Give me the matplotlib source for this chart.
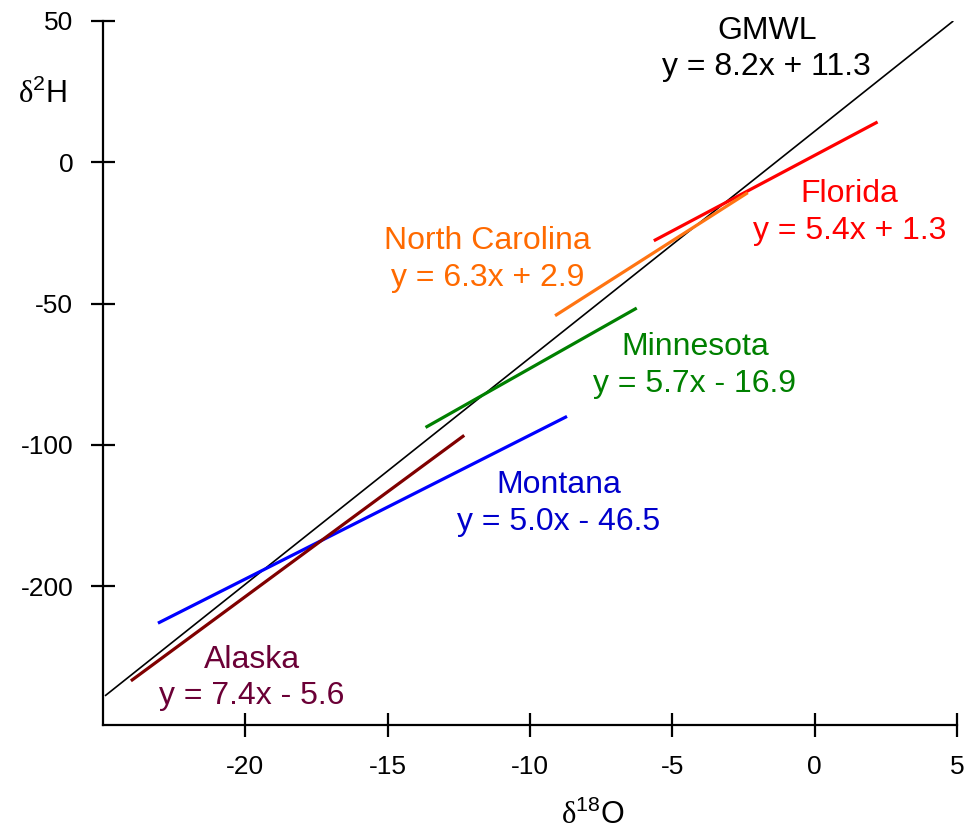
import matplotlib
matplotlib.use("Agg")
import matplotlib.pyplot as plt

plt.rcParams['font.family'] = ['Liberation Sans', 'DejaVu Sans']
plt.rcParams['mathtext.fontset'] = 'custom'
plt.rcParams['mathtext.rm'] = 'Liberation Serif'
plt.rcParams['mathtext.sf'] = 'Liberation Sans'

# Data
series_names = ["GMWL", "Florida", "North Carolina", "Minnesota", "Montana", "Alaska"]
series_eq = ["y = 8.2x + 11.3", "y = 5.4x + 1.3", "y = 6.3x + 2.9",
             "y = 5.7x - 16.9", "y = 5.0x - 46.5", "y = 7.4x - 5.6"]
x_start = [-24.93, -5.65, -9.12, -13.67, -23.07, -24.02]
x_end = [4.87, 2.21, -2.35, -6.25, -8.70, -12.31]
y_start = [-188.7, -27.8, -54.3, -93.8, -163.0, -183.4]
y_end = [49.9, 14.2, -10.8, -51.6, -89.9, -96.6]
label_x = [-1.68, 1.23, -11.5, -4.21, -8.98, -19.78]
label_y = [40.0, -17.7, -34.5, -71.9, -120.7, -182.4]

x_ticks = [-20, -15, -10, -5, 0, 5]
x_ticklabels = ["-20", "-15", "-10", "-5", "0", "5"]
y_ticks = [50, 0, -50, -100, -150]
y_ticklabels = ["50", "0", "-50", "-100", "-200"]

line_colors = ["#000000", "#ff0000", "#ff7412", "#008000", "#0000ff", "#800000"]
text_colors = ["#000000", "#ff0000", "#ff6a00", "#008000", "#0000cc", "#6b0036"]
line_widths = [1.2, 2.3, 2.3, 2.3, 2.3, 2.3]

fig = plt.figure(figsize=(9.66, 8.32), dpi=100)
ax = fig.add_axes([103/966, 1 - 725/832, (957 - 103)/966, (725 - 20.7)/832])

for i in range(len(series_names)):
    ax.plot([x_start[i], x_end[i]], [y_start[i], y_end[i]],
            color=line_colors[i], lw=line_widths[i], solid_capstyle='butt', zorder=3 if i else 2)
    ax.text(label_x[i], label_y[i], series_names[i] + "\n" + series_eq[i],
            ha='center', va='center', fontsize=23, color=text_colors[i],
            linespacing=1.3)

ax.set_xlim(-25, 5)
ax.set_ylim(-199, 50)
ax.set_xticks(x_ticks)
ax.set_xticklabels(x_ticklabels)
ax.set_yticks(y_ticks)
ax.set_yticklabels(y_ticklabels)
for s in ['top', 'right']:
    ax.spines[s].set_visible(False)
for s in ['left', 'bottom']:
    ax.spines[s].set_linewidth(1.6)
ax.tick_params(direction='inout', length=17, width=1.6, labelsize=19, pad=13)

fig.text(42/966, 1 - 94/832, r'$\mathrm{\delta}^{\mathsf{2}}$H', fontsize=22,
         ha='center', va='center')
fig.text(593/966, 1 - 815/832, r'$\mathrm{\delta}^{\mathsf{18}}$O', fontsize=22,
         ha='center', va='center')

fig.savefig("out.png", dpi=100)
